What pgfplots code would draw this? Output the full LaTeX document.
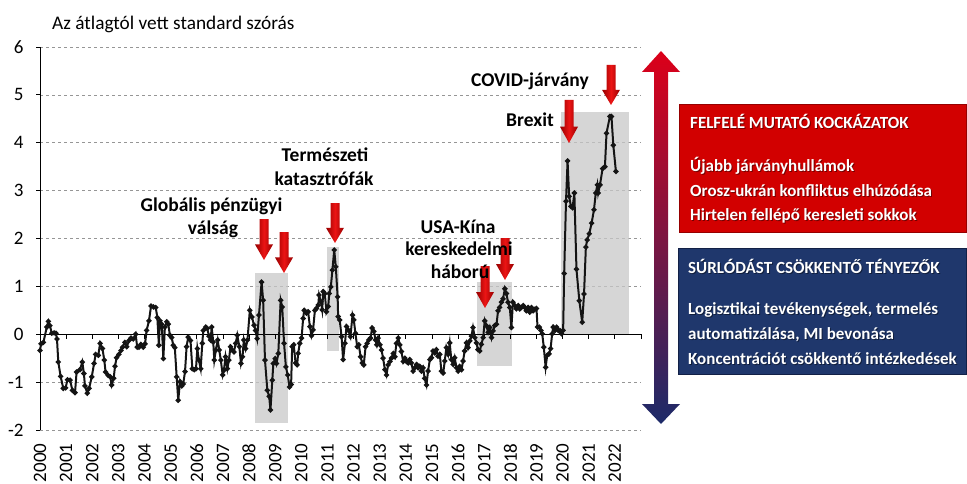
\documentclass[border=0pt]{standalone}
\usepackage{fontspec}
\setmainfont{Carlito}
\usepackage{pgfplots}
\pgfplotsset{compat=1.18}
\definecolor{gridgray}{RGB}{150,150,150}
\definecolor{boxred}{RGB}{210,0,0}
\definecolor{boxredd}{RGB}{150,0,0}
\definecolor{boxblue}{RGB}{31,55,108}
\definecolor{boxblued}{RGB}{18,32,70}
\definecolor{bigred}{RGB}{220,0,25}
\definecolor{bignavy}{RGB}{28,42,105}
\definecolor{shadegray}{RGB}{200,200,200}
\definecolor{linec}{RGB}{20,20,20}
\definecolor{arrowmid}{RGB}{235,20,20}
\definecolor{arrowedge}{RGB}{150,0,0}

\newcommand\redarrow[3]{%
  \pgfmathsetmacro\yh{#3-0.38*(#3-#2)}%
  \shade[left color=arrowedge, right color=arrowedge, middle color=arrowmid]
    (#1-4.5,#2) -- (#1+4.5,#2) -- (#1+4.5,\yh) -- (#1+9,\yh) -- (#1,#3)
    -- (#1-9,\yh) -- (#1-4.5,\yh) -- cycle;
}

\begin{document}
\begin{tikzpicture}
\useasboundingbox (0,0) rectangle (967pt,483pt);
\begin{axis}[
  scale only axis, width=601pt, height=383pt,
  at={(40pt,53pt)}, anchor=south west,
  xmin=0, xmax=23, ymin=-2, ymax=6,
  axis lines*=left,
  axis line style={-},
  x axis line style={draw=none},
  y axis line style={black, line width=0.9pt},
  xtick={0,1,...,22},
  xticklabels={2000,2001,2002,2003,2004,2005,2006,2007,2008,2009,2010,2011,2012,2013,2014,2015,2016,2017,2018,2019,2020,2021,2022},
  ytick={-2,-1,...,6},
  yticklabels={-2,-1,0,1,2,3,4,5,6},
  xtick style={draw=none},
  ytick style={black, line width=0.8pt},
  tick align=outside,
  major tick length=4pt,
  ymajorgrids,
  grid style={dashed, gridgray, line width=0.6pt},
  ticklabel style={font=\fontsize{19}{22}\selectfont},
  xticklabel style={yshift=-6pt, rotate=90, anchor=east},
  yticklabel style={anchor=east, xshift=-9pt},
  clip=false,
]
\fill[shadegray, fill opacity=0.75] (axis cs:8.22,-1.85) rectangle (axis cs:9.49,1.28);
\fill[shadegray, fill opacity=0.75] (axis cs:11.0,-0.35) rectangle (axis cs:11.45,1.82);
\fill[shadegray, fill opacity=0.75] (axis cs:16.74,-0.67) rectangle (axis cs:18.08,1.09);
\fill[shadegray, fill opacity=0.75] (axis cs:19.93,0) rectangle (axis cs:22.54,4.65);
\draw[black, line width=1.1pt] (axis cs:0,0) -- (axis cs:23,0);
\pgfplotsinvokeforeach{1,2,...,23}{\draw[black, line width=0.8pt] (axis cs:#1,0) -- ([yshift=-5pt]axis cs:#1,0);}
\addplot[linec, line width=2pt, mark=*, mark size=1.5pt] coordinates {
(0.00,-0.34) (0.04,-0.20) (0.13,-0.17) (0.26,0.15) (0.32,0.27) (0.38,0.18)
(0.45,0.02) (0.54,0.03) (0.61,0.02) (0.65,-0.10) (0.70,-0.58) (0.79,-0.88)
(0.89,-1.13) (0.98,-1.12) (1.05,-0.95) (1.15,-0.96) (1.24,-1.17) (1.34,-1.22)
(1.40,-0.79) (1.53,-0.74) (1.62,-0.58) (1.68,-0.82) (1.72,-1.08) (1.81,-1.23)
(1.88,-1.13) (1.98,-0.89) (2.07,-0.61) (2.13,-0.42) (2.23,-0.44) (2.30,-0.19)
(2.39,-0.30) (2.46,-0.54) (2.51,-0.79) (2.61,-0.86) (2.69,-0.89) (2.74,-1.06)
(2.82,-0.92) (2.87,-0.67) (2.93,-0.49) (3.02,-0.42) (3.10,-0.34) (3.16,-0.27)
(3.25,-0.17) (3.32,-0.26) (3.41,-0.13) (3.48,-0.08) (3.57,-0.10) (3.66,0.00)
(3.72,-0.27) (3.79,-0.27) (3.86,-0.21) (3.95,-0.27) (4.02,-0.20) (4.08,0.08)
(4.17,0.28) (4.25,0.59) (4.34,0.57) (4.43,0.56) (4.49,0.35) (4.55,-0.23)
(4.59,0.28) (4.66,0.21) (4.72,-0.51) (4.78,0.15) (4.85,0.26) (4.91,0.21)
(4.97,-0.02) (5.04,-0.07) (5.10,-0.23) (5.16,-0.28) (5.23,-0.89) (5.29,-1.38)
(5.36,-0.99) (5.42,-1.08) (5.48,-1.04) (5.55,-0.78) (5.61,-0.26) (5.67,-0.06)
(5.76,-0.13) (5.83,-0.72) (5.90,-0.74) (5.97,-0.72) (6.02,-0.30) (6.08,-0.54)
(6.15,-0.72) (6.21,-0.19) (6.25,0.08) (6.34,0.15) (6.40,0.12) (6.47,-0.04)
(6.53,-0.12) (6.57,0.15) (6.63,-0.16) (6.67,-0.54) (6.73,-0.33) (6.80,-0.12)
(6.86,-0.33) (6.92,-0.54) (6.99,-0.85) (7.04,-0.75) (7.10,-0.47) (7.17,-0.72)
(7.23,-0.54) (7.29,-0.26) (7.36,-0.33) (7.42,-0.37) (7.49,-0.19) (7.55,-0.02)
(7.63,-0.26) (7.69,-0.61) (7.75,-0.47) (7.80,-0.12) (7.87,-0.30) (7.94,-0.12)
(8.03,0.50) (8.11,0.36) (8.19,0.19) (8.25,0.08) (8.31,-0.09) (8.38,0.40)
(8.48,1.09) (8.54,0.71) (8.61,-0.54) (8.70,-1.17) (8.77,-1.30) (8.82,-1.58)
(8.89,-0.96) (8.93,-0.61) (9.00,-0.51) (9.05,-0.61) (9.12,-0.40) (9.21,0.71)
(9.27,0.57) (9.34,-0.19) (9.41,-0.68) (9.48,-0.85) (9.55,-1.10) (9.61,-1.05)
(9.65,-0.26) (9.71,-0.22) (9.78,-0.60) (9.84,-0.64) (9.88,-0.40) (9.94,-0.19)
(10.01,-0.08) (10.07,0.33) (10.11,0.50) (10.20,0.44) (10.26,0.47) (10.33,0.16)
(10.39,-0.03) (10.45,0.09) (10.52,0.50) (10.58,0.54) (10.65,0.61) (10.68,0.82)
(10.75,0.68) (10.80,0.51) (10.84,0.89) (10.90,0.85) (10.96,0.47) (11.03,0.58)
(11.07,0.85) (11.13,0.99) (11.19,1.34) (11.26,1.76) (11.32,1.41) (11.39,0.78)
(11.41,0.37) (11.47,0.30) (11.54,-0.05) (11.60,-0.53) (11.67,-0.19) (11.73,0.16)
(11.79,0.09) (11.88,-0.05) (11.96,0.40) (12.01,0.30) (12.07,0.02) (12.14,-0.26)
(12.20,-0.22) (12.27,-0.47) (12.33,-0.60) (12.39,-0.64) (12.46,-0.26) (12.52,-0.19)
(12.58,-0.12) (12.65,-0.08) (12.71,0.13) (12.78,0.06) (12.84,-0.12) (12.89,-0.22)
(12.94,-0.08) (13.01,-0.22) (13.07,-0.33) (13.13,-0.50) (13.20,-0.74) (13.26,-0.85)
(13.32,-0.64) (13.39,-0.57) (13.45,-0.50) (13.52,-0.40) (13.58,-0.47) (13.64,-0.19)
(13.71,-0.08) (13.77,-0.22) (13.83,-0.36) (13.90,-0.57) (13.96,-0.50) (14.03,-0.57)
(14.09,-0.60) (14.15,-0.53) (14.21,-0.60) (14.28,-0.77) (14.34,-0.70) (14.41,-0.63)
(14.47,-0.70) (14.53,-0.67) (14.60,-0.77) (14.66,-0.70) (14.72,-0.92) (14.79,-1.06)
(14.85,-0.77) (14.92,-0.53) (14.98,-0.49) (15.04,-0.35) (15.11,-0.39) (15.17,-0.32)
(15.23,-0.46) (15.30,-0.42) (15.36,-0.77) (15.43,-0.81) (15.49,-0.56) (15.55,-0.28)
(15.62,-0.42) (15.68,-0.18) (15.74,-0.53) (15.81,-0.63) (15.87,-0.49) (15.94,-0.70)
(16.00,-0.77) (16.06,-0.67) (16.13,-0.74) (16.19,-0.56) (16.25,-0.35) (16.32,-0.18)
(16.38,-0.28) (16.45,-0.14) (16.51,-0.04) (16.57,0.14) (16.64,-0.07) (16.70,-0.18)
(16.76,-0.32) (16.83,-0.35) (16.89,-0.21) (16.96,-0.07) (17.02,0.28) (17.08,0.18)
(17.15,0.04) (17.21,0.14) (17.28,-0.07) (17.34,0.07) (17.40,0.18) (17.47,0.21)
(17.53,0.49) (17.59,0.56) (17.66,0.67) (17.72,0.74) (17.79,0.95) (17.85,0.85)
(17.91,0.67) (17.98,0.56) (18.04,0.14) (18.10,0.67) (18.17,0.60) (18.23,0.53)
(18.30,0.60) (18.36,0.53) (18.42,0.56) (18.49,0.60) (18.55,0.56) (18.61,0.49)
(18.68,0.56) (18.74,0.46) (18.81,0.56) (18.87,0.49) (18.93,0.52) (19.00,0.54)
(19.04,0.15) (19.11,0.15) (19.17,0.08) (19.22,0.01) (19.28,-0.27) (19.35,-0.69)
(19.41,-0.44) (19.48,-0.41) (19.54,-0.30) (19.60,0.01) (19.64,0.15) (19.71,0.08)
(19.77,0.15) (19.83,0.08) (19.90,0.08) (19.96,0.01) (20.02,0.08) (20.06,1.27)
(20.13,2.78) (20.19,3.62) (20.25,2.88) (20.32,2.67) (20.38,2.64) (20.45,2.95)
(20.53,1.36) (20.64,0.70) (20.75,0.25) (20.82,0.84) (20.89,1.82) (20.94,1.97)
(21.02,2.10) (21.11,2.32) (21.20,2.60) (21.27,2.95) (21.33,3.12) (21.36,2.95)
(21.43,3.12) (21.53,3.46) (21.62,3.50) (21.68,4.20) (21.81,4.55) (21.87,4.55)
(21.94,3.95) (22.04,3.40)
};
\end{axis}

\begin{scope}[shift={(0pt,483pt)}, x=1pt, y=-1pt]
\node[anchor=base west, inner sep=0pt, font=\fontsize{19.3}{22}\selectfont] at (52,30) {Az átlagtól vett standard szórás};
\redarrow{264}{219}{260}
\redarrow{284}{232}{273}
\redarrow{335}{203}{243}
\redarrow{485}{266}{308}
\redarrow{505}{238}{280}
\redarrow{569}{100}{143}
\redarrow{611}{65}{105}
\begin{scope}[every node/.style={anchor=base, inner sep=0pt, font=\fontsize{19.5}{23}\selectfont\bfseries}]
\node at (211.5,211) {Globális pénzügyi};
\node at (213,234) {válság};
\node at (325,162) {Természeti};
\node at (324,185) {katasztrófák};
\node at (458,233) {USA-Kína};
\node at (459,255) {kereskedelmi};
\node at (460,278) {háború};
\node at (530,87) {COVID-járvány};
\node at (530,127) {Brexit};
\end{scope}
\shade[top color=bigred, bottom color=bignavy]
  (661,51) -- (680,72) -- (668,72) -- (668,404) -- (680,404) -- (661,424)
  -- (642,404) -- (654,404) -- (654,72) -- (642,72) -- cycle;
\fill[boxred] (679,104) rectangle (967,233);
\draw[boxredd, line width=0.8pt] (679.4,104.4) rectangle (966.6,232.6);
\fill[boxblue] (678,248) rectangle (967,375);
\draw[boxblued, line width=0.8pt] (678.4,248.4) rectangle (966.6,374.6);
\begin{scope}[every node/.style={anchor=base west, inner sep=0pt, font=\fontsize{17}{20}\selectfont\bfseries}]
\foreach \t/\xx/\yy in {
  {FELFELÉ MUTATÓ KOCKÁZATOK}/690/129,
  {Újabb járványhullámok}/690/171,
  {Orosz-ukrán konfliktus elhúzódása}/690/196,
  {Hirtelen fellépő keresleti sokkok}/690/220,
  {SÚRLÓDÁST CSÖKKENTŐ TÉNYEZŐK}/688/273,
  {Logisztikai tevékenységek, termelés}/688/314,
  {automatizálása, MI bevonása}/688/339,
  {Koncentrációt csökkentő intézkedések}/688/364}{
  \node[text=black, opacity=0.45] at (\xx+1,\yy+1) {\t};
  \node[text=white] at (\xx,\yy) {\t};
}
\end{scope}
\end{scope}
\end{tikzpicture}
\end{document}
